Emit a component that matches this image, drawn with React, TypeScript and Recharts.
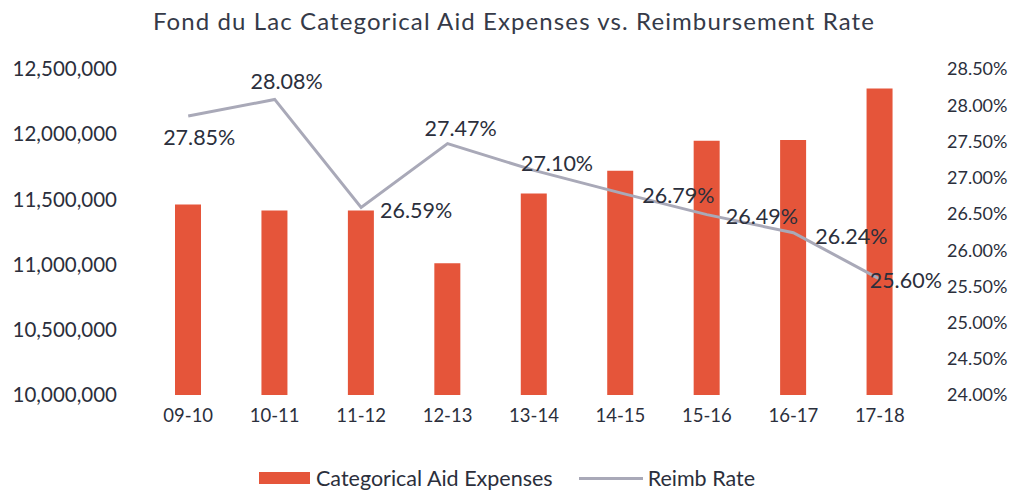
import { ComposedChart, Bar, Line, XAxis, YAxis, LabelList } from "recharts";

const years = ["09-10", "10-11", "11-12", "12-13", "13-14", "14-15", "15-16", "16-17", "17-18"];
const aidExpenses = [11460000, 11415000, 11415000, 11010000, 11545000, 11720000, 11950000, 11955000, 12350000];
const reimbRate = [27.85, 28.08, 26.59, 27.47, 27.1, 26.79, 26.49, 26.24, 25.6];
const leftTicks = [10000000, 10500000, 11000000, 11500000, 12000000, 12500000];
const rightTicks = [24, 24.5, 25, 25.5, 26, 26.5, 27, 27.5, 28, 28.5];

// where each rate label sits relative to its point (dx, dy of label centre)
const labelShift: [number, number][] = [
  [11, 21],
  [12, -18],
  [55, 3],
  [13, -16],
  [23, -7],
  [58, 2],
  [55, 1],
  [58, 3],
  [26, 1],
];

const BAR = "#e5553a";
const LINE = "#a9a9b8";
const INK = "#2b2f3c";
const FONT = "Lato, 'Open Sans', sans-serif";

const data = years.map((y, i) => ({ year: y, aid: aidExpenses[i], rate: reimbRate[i] }));

const fmtMoney = (v: number) => v.toLocaleString("en-US");
const fmtPct = (v: number) => v.toFixed(2) + "%";

function RateLabel(props: any) {
  const { x, y, index, value } = props;
  const [dx, dy] = labelShift[index] ?? [0, 0];
  return (
    <text
      x={x + dx}
      y={y + dy}
      textAnchor="middle"
      dominantBaseline="central"
      fill={INK}
      fontSize={21.5}
      fontFamily={FONT}
    >
      {fmtPct(value)}
    </text>
  );
}

export default function App() {
  return (
    <div style={{ position: "fixed", top: 0, left: 0, width: 1018, height: 492, background: "#fff", fontFamily: FONT }}>
      <div
        style={{
          position: "absolute",
          top: 6,
          left: 5,
          width: 1018,
          textAlign: "center",
          fontSize: 24,
          letterSpacing: 1.1,
          color: "#353a48",
        }}
      >
        Fond du Lac Categorical Aid Expenses vs. Reimbursement Rate
      </div>
      <ComposedChart width={1018} height={492} data={data} margin={{ top: 69, right: 0, bottom: 57, left: 0 }}>
        <XAxis
          dataKey="year"
          axisLine={false}
          tickLine={false}
          height={40}
          tickMargin={8}
          tick={{ fill: INK, fontSize: 18.5, fontFamily: FONT }}
        />
        <YAxis
          yAxisId="left"
          domain={[10000000, 12500000]}
          ticks={leftTicks}
          tickFormatter={fmtMoney}
          width={145}
          axisLine={false}
          tickLine={false}
          tickSize={0}
          tickMargin={28}
          tick={{ fill: INK, fontSize: 20.5, fontFamily: FONT }}
          allowDataOverflow
        />
        <YAxis
          yAxisId="right"
          orientation="right"
          domain={[24, 28.5]}
          ticks={rightTicks}
          tickFormatter={fmtPct}
          width={95}
          axisLine={false}
          tickLine={false}
          tickSize={0}
          tickMargin={24}
          tick={{ fill: INK, fontSize: 18, fontFamily: FONT }}
        />
        <Bar yAxisId="left" dataKey="aid" fill={BAR} barSize={26} isAnimationActive={false} />
        <Line
          yAxisId="right"
          dataKey="rate"
          stroke={LINE}
          strokeWidth={3}
          dot={false}
          type="linear"
          isAnimationActive={false}
        >
          <LabelList dataKey="rate" content={<RateLabel />} />
        </Line>
      </ComposedChart>
      <div
        style={{
          position: "absolute",
          top: 465,
          left: 259,
          display: "flex",
          alignItems: "center",
          fontSize: 21.5,
          color: INK,
        }}
      >
        <span style={{ display: "inline-block", width: 51, height: 12, background: BAR, marginRight: 6 }} />
        <span>Categorical Aid Expenses</span>
        <span style={{ display: "inline-block", width: 64, height: 3, background: LINE, marginLeft: 26, marginRight: 5 }} />
        <span>Reimb Rate</span>
      </div>
    </div>
  );
}
